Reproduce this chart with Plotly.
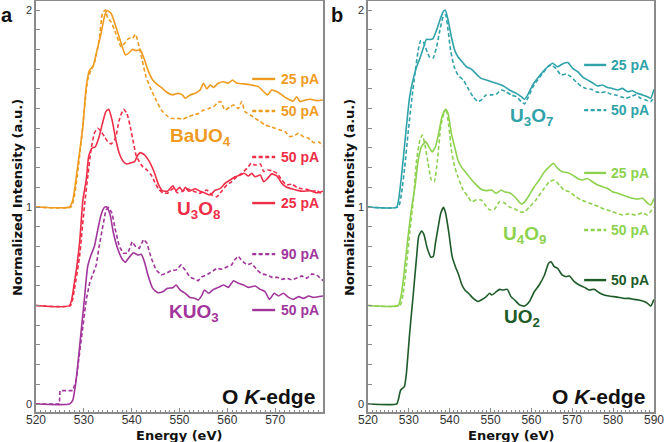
import plotly.graph_objects as go

# ---------------- DATA ----------------
# Panel a
ba25_E = [520, 527.0, 527.7, 528.7, 529.8, 530.5, 531.2, 531.9, 532.6, 533.6, 534.3, 534.85, 535.7, 536.7, 537.8, 538.7, 539.5, 540.1, 540.9, 541.8, 542.7, 543.4, 544.4, 545.5, 546.2, 547.2, 548.6, 549.6, 550.6, 551.2, 552.2, 553.3, 554.3, 555.0, 555.7, 556.4, 557.1, 558.1, 559.2, 560.2, 561.1, 562.0, 563.4, 565.1, 566.5, 567.6, 568.4, 569.3, 570.4, 571.4, 572.4, 573.8, 574.5, 575.2, 576.3, 577.3, 578.7, 580.0]
ba25_I = [1.0, 1.0, 1.036, 1.205, 1.408, 1.611, 1.695, 1.712, 1.78, 1.88, 1.966, 1.997, 1.983, 1.915, 1.831, 1.772, 1.783, 1.80, 1.794, 1.797, 1.746, 1.695, 1.645, 1.619, 1.607, 1.585, 1.569, 1.577, 1.569, 1.552, 1.569, 1.577, 1.594, 1.628, 1.60, 1.619, 1.607, 1.628, 1.636, 1.628, 1.645, 1.628, 1.625, 1.619, 1.611, 1.585, 1.569, 1.594, 1.585, 1.569, 1.552, 1.538, 1.560, 1.535, 1.543, 1.547, 1.54, 1.543]

ba50_E = [520, 527.3, 528.0, 529.1, 530.1, 530.8, 531.5, 532.2, 533.2, 533.9, 534.5, 535.0, 535.7, 536.7, 537.8, 538.5, 539.4, 540.2, 540.8, 541.3, 542.2, 543.0, 544.1, 545.1, 546.2, 547.2, 548.2, 549.6, 550.8, 551.9, 552.9, 554.0, 555.0, 556.1, 557.1, 557.8, 558.6, 559.5, 560.6, 561.3, 562.3, 563.0, 563.7, 564.8, 565.8, 566.9, 567.9, 569.0, 570.0, 571.0, 572.1, 573.1, 574.2, 574.9, 575.9, 577.0, 578.0, 579.1, 580.0]
ba50_I = [1.0, 1.0, 1.052, 1.255, 1.492, 1.645, 1.695, 1.73, 1.848, 1.983, 2.0, 1.958, 1.94, 1.88, 1.814, 1.831, 1.856, 1.856, 1.877, 1.84, 1.746, 1.661, 1.594, 1.543, 1.492, 1.467, 1.45, 1.45, 1.447, 1.458, 1.467, 1.475, 1.492, 1.50, 1.509, 1.526, 1.535, 1.492, 1.509, 1.518, 1.50, 1.535, 1.484, 1.467, 1.45, 1.433, 1.416, 1.408, 1.40, 1.391, 1.382, 1.357, 1.365, 1.374, 1.357, 1.349, 1.327, 1.33, 1.31]

u3o8_25_E = [520, 527.0, 528.0, 529.1, 529.8, 530.5, 531.0, 531.7, 532.4, 533.2, 533.9, 534.6, 535.2, 535.9, 536.7, 537.4, 538.3, 539.0, 539.9, 540.6, 541.3, 541.8, 542.7, 543.7, 544.8, 545.5, 546.4, 547.5, 548.6, 549.3, 550.0, 550.7, 551.2, 551.9, 553.3, 554.3, 555.4, 556.4, 557.5, 558.5, 559.5, 560.6, 561.6, 562.7, 563.5, 564.4, 565.1, 565.8, 566.9, 567.6, 568.4, 569.3, 570.4, 571.4, 572.4, 573.8, 574.9, 575.9, 577.3, 578.7, 580.0]
u3o8_25_I = [0.5, 0.5, 0.613, 0.816, 1.036, 1.137, 1.255, 1.298, 1.306, 1.357, 1.425, 1.484, 1.496, 1.442, 1.34, 1.273, 1.23, 1.218, 1.225, 1.23, 1.264, 1.276, 1.264, 1.23, 1.171, 1.12, 1.083, 1.08, 1.107, 1.083, 1.10, 1.08, 1.10, 1.08, 1.093, 1.08, 1.07, 1.061, 1.086, 1.093, 1.12, 1.137, 1.154, 1.162, 1.171, 1.157, 1.171, 1.154, 1.162, 1.128, 1.145, 1.168, 1.157, 1.12, 1.10, 1.09, 1.083, 1.08, 1.083, 1.072, 1.08]

u3o8_50_E = [520, 527.2, 528.0, 529.1, 530.1, 530.8, 531.5, 532.2, 532.9, 533.6, 534.3, 535.0, 535.7, 536.6, 537.4, 538.3, 539.0, 539.7, 540.4, 540.9, 541.6, 542.3, 543.2, 544.1, 544.8, 545.5, 546.5, 547.5, 548.6, 549.6, 550.7, 551.5, 552.9, 554.3, 555.7, 556.8, 557.8, 558.8, 559.9, 560.9, 562.0, 563.0, 564.1, 565.0, 565.8, 566.9, 567.6, 568.4, 569.3, 570.4, 571.4, 572.4, 573.5, 574.5, 575.6, 576.6, 577.7, 578.7, 580.0]
u3o8_50_I = [0.5, 0.5, 0.579, 0.748, 1.0, 1.15, 1.289, 1.374, 1.40, 1.384, 1.357, 1.332, 1.32, 1.349, 1.442, 1.496, 1.475, 1.408, 1.323, 1.264, 1.23, 1.205, 1.188, 1.162, 1.128, 1.095, 1.072, 1.07, 1.093, 1.072, 1.08, 1.093, 1.08, 1.07, 1.086, 1.061, 1.052, 1.08, 1.112, 1.128, 1.154, 1.171, 1.196, 1.222, 1.213, 1.218, 1.18, 1.188, 1.184, 1.171, 1.137, 1.112, 1.116, 1.10, 1.093, 1.09, 1.08, 1.083, 1.061]

kuo50_E = [520, 527.0, 527.7, 528.2, 528.7, 529.4, 530.1, 530.8, 531.5, 532.2, 532.9, 533.6, 534.3, 534.8, 535.5, 536.2, 537.1, 538.0, 538.7, 539.5, 540.4, 541.3, 542.0, 542.7, 543.4, 544.4, 545.5, 546.5, 547.5, 548.6, 549.3, 550.1, 551.2, 552.2, 553.3, 553.9, 554.7, 555.2, 556.1, 557.1, 558.1, 559.2, 560.2, 561.3, 562.3, 563.4, 564.4, 565.8, 566.9, 567.9, 568.8, 569.8, 570.7, 571.7, 572.8, 573.8, 574.9, 575.9, 577.0, 578.0, 580.0]
kuo50_I = [0, 0, 0.02, 0.088, 0.19, 0.36, 0.528, 0.697, 0.756, 0.80, 0.883, 0.96, 0.998, 1.0, 0.96, 0.867, 0.787, 0.736, 0.72, 0.745, 0.768, 0.756, 0.76, 0.72, 0.655, 0.587, 0.565, 0.57, 0.587, 0.59, 0.604, 0.579, 0.562, 0.541, 0.536, 0.528, 0.553, 0.579, 0.562, 0.582, 0.592, 0.604, 0.592, 0.626, 0.613, 0.604, 0.592, 0.599, 0.582, 0.57, 0.531, 0.562, 0.548, 0.562, 0.541, 0.531, 0.545, 0.536, 0.548, 0.541, 0.548]

kuo90_E = [520, 524.9, 525.0, 527.7, 528.4, 529.1, 529.8, 530.5, 531.2, 531.9, 532.6, 533.2, 533.9, 534.6, 535.2, 535.9, 536.6, 537.4, 538.3, 539.2, 540.1, 540.8, 541.6, 542.5, 543.2, 544.1, 545.1, 546.2, 547.2, 548.2, 549.3, 550.3, 551.2, 552.2, 553.3, 553.9, 554.7, 555.7, 556.8, 557.8, 558.8, 559.9, 560.9, 561.6, 562.3, 563.0, 564.1, 565.1, 566.2, 567.2, 568.3, 569.3, 570.4, 571.4, 572.4, 573.5, 574.5, 575.6, 576.6, 577.7, 578.7, 580.0]
kuo90_I = [0, 0, 0.068, 0.068, 0.122, 0.257, 0.41, 0.528, 0.613, 0.655, 0.706, 0.80, 0.90, 0.985, 0.998, 0.968, 0.883, 0.80, 0.765, 0.765, 0.824, 0.80, 0.79, 0.836, 0.816, 0.74, 0.68, 0.655, 0.663, 0.677, 0.68, 0.706, 0.68, 0.643, 0.633, 0.626, 0.646, 0.655, 0.672, 0.689, 0.684, 0.697, 0.706, 0.734, 0.751, 0.728, 0.706, 0.714, 0.68, 0.66, 0.655, 0.643, 0.643, 0.633, 0.638, 0.63, 0.638, 0.65, 0.638, 0.66, 0.655, 0.626]

# Panel b
u3o7_25_E = [520, 527.0, 527.8, 528.6, 529.4, 530.2, 531.1, 531.9, 532.7, 533.5, 534.3, 535.1, 535.9, 536.8, 537.6, 538.4, 538.9, 539.6, 540.4, 541.2, 542.0, 542.8, 544.1, 545.3, 546.5, 547.7, 548.9, 550.2, 551.4, 552.6, 553.4, 554.6, 556.3, 557.5, 558.3, 559.1, 560.3, 561.5, 562.8, 564.0, 565.2, 566.4, 567.6, 568.9, 570.1, 571.3, 572.5, 573.7, 574.9, 576.2, 577.4, 578.6, 579.8, 581.1, 582.3, 583.5, 584.7, 585.9, 587.2, 588.4, 589.2, 590.0]
u3o7_25_I = [1.0, 1.0, 1.086, 1.239, 1.408, 1.56, 1.653, 1.712, 1.755, 1.805, 1.851, 1.85, 1.855, 1.898, 1.949, 1.991, 2.0, 1.95, 1.864, 1.797, 1.763, 1.743, 1.712, 1.70, 1.675, 1.653, 1.645, 1.636, 1.628, 1.619, 1.611, 1.594, 1.577, 1.56, 1.547, 1.569, 1.619, 1.653, 1.687, 1.712, 1.73, 1.712, 1.726, 1.733, 1.704, 1.687, 1.661, 1.645, 1.631, 1.614, 1.619, 1.607, 1.602, 1.594, 1.602, 1.585, 1.59, 1.577, 1.569, 1.56, 1.552, 1.598]

u3o7_50_E = [520, 527.4, 528.2, 529.0, 529.8, 530.7, 531.5, 532.3, 532.9, 533.5, 534.3, 535.1, 535.9, 536.8, 537.6, 538.4, 539.0, 539.6, 540.2, 541.1, 542.0, 543.3, 544.5, 545.7, 546.9, 547.7, 548.9, 550.2, 551.4, 552.6, 553.8, 555.0, 556.3, 557.5, 558.3, 559.1, 560.3, 561.5, 562.8, 564.0, 564.8, 566.0, 567.2, 568.5, 569.7, 570.9, 572.1, 573.3, 574.6, 575.8, 577.0, 578.2, 579.4, 580.6, 581.9, 583.1, 584.3, 585.5, 586.7, 588.0, 589.2, 590.0]
u3o7_50_I = [1.0, 1.0, 1.07, 1.205, 1.374, 1.543, 1.679, 1.797, 1.844, 1.84, 1.797, 1.76, 1.755, 1.814, 1.898, 1.966, 1.975, 1.898, 1.797, 1.712, 1.67, 1.645, 1.602, 1.56, 1.535, 1.543, 1.569, 1.569, 1.573, 1.594, 1.585, 1.569, 1.56, 1.535, 1.523, 1.552, 1.607, 1.645, 1.679, 1.712, 1.72, 1.704, 1.67, 1.675, 1.661, 1.636, 1.614, 1.602, 1.598, 1.585, 1.58, 1.585, 1.573, 1.569, 1.56, 1.552, 1.56, 1.569, 1.552, 1.543, 1.535, 1.56]

u4o9_25_E = [520, 527.4, 528.2, 529.0, 529.8, 530.7, 531.5, 532.3, 533.1, 534.1, 534.9, 535.7, 536.5, 537.3, 538.1, 539.0, 539.6, 540.4, 541.2, 542.0, 542.8, 544.1, 545.3, 546.5, 547.7, 548.9, 550.2, 551.4, 552.6, 553.4, 554.6, 555.9, 557.5, 558.3, 559.5, 560.7, 561.9, 563.2, 564.4, 565.4, 566.4, 567.6, 568.9, 570.1, 571.3, 572.5, 573.7, 574.9, 576.2, 577.4, 578.6, 579.8, 581.1, 582.3, 583.5, 584.7, 585.9, 587.2, 588.4, 589.2, 590.0]
u4o9_25_I = [0.5, 0.5, 0.562, 0.697, 0.85, 1.0, 1.103, 1.239, 1.306, 1.332, 1.306, 1.28, 1.306, 1.374, 1.458, 1.496, 1.475, 1.374, 1.306, 1.239, 1.205, 1.171, 1.14, 1.112, 1.09, 1.083, 1.086, 1.07, 1.086, 1.077, 1.072, 1.052, 1.015, 1.025, 1.061, 1.103, 1.137, 1.179, 1.205, 1.222, 1.196, 1.179, 1.174, 1.162, 1.145, 1.137, 1.145, 1.128, 1.112, 1.103, 1.095, 1.077, 1.07, 1.061, 1.052, 1.044, 1.04, 1.044, 1.02, 1.01, 1.044]

u4o9_50_E = [520, 527.8, 528.6, 529.4, 530.2, 531.1, 531.9, 532.7, 533.3, 533.9, 534.7, 535.5, 536.2, 537.0, 537.8, 538.6, 539.2, 539.8, 540.4, 541.2, 542.0, 543.3, 544.5, 545.3, 546.5, 547.7, 548.7, 549.8, 551.0, 552.2, 553.4, 554.6, 555.9, 557.3, 558.3, 559.5, 561.1, 562.8, 564.4, 565.6, 566.8, 568.0, 569.3, 570.9, 572.1, 573.3, 574.9, 576.6, 577.4, 579.8, 582.3, 583.9, 585.5, 587.2, 588.4, 590.0]
u4o9_50_I = [0.5, 0.5, 0.562, 0.697, 0.867, 1.036, 1.239, 1.34, 1.365, 1.32, 1.222, 1.137, 1.128, 1.239, 1.408, 1.475, 1.484, 1.408, 1.289, 1.205, 1.154, 1.086, 1.052, 1.027, 1.036, 1.036, 1.01, 0.985, 0.99, 1.027, 1.02, 1.0, 0.99, 0.975, 0.975, 1.0, 1.036, 1.086, 1.128, 1.137, 1.112, 1.086, 1.077, 1.052, 1.036, 1.027, 1.015, 1.0, 0.993, 0.976, 0.96, 0.965, 0.96, 0.97, 0.96, 1.0]

uo2_50_E = [520, 527.0, 527.4, 528.0, 528.9, 529.4, 530.2, 531.1, 531.9, 532.4, 533.1, 533.7, 534.5, 535.4, 536.0, 536.5, 537.2, 537.8, 538.5, 539.0, 539.8, 540.6, 541.4, 542.2, 543.0, 543.7, 544.6, 545.7, 546.9, 547.7, 548.7, 549.8, 550.3, 551.4, 552.2, 553.0, 554.1, 555.0, 555.9, 557.1, 558.3, 559.5, 560.7, 561.9, 563.2, 564.2, 564.8, 565.6, 566.4, 567.5, 568.5, 569.3, 570.5, 571.7, 573.0, 574.1, 575.4, 576.6, 577.8, 579.0, 580.2, 581.5, 582.7, 583.9, 585.1, 586.3, 587.6, 588.4, 589.2, 590.0]
uo2_50_I = [0, 0, 0.02, 0.071, 0.088, 0.156, 0.36, 0.562, 0.748, 0.85, 0.878, 0.86, 0.79, 0.745, 0.75, 0.816, 0.90, 0.968, 0.998, 0.968, 0.867, 0.748, 0.697, 0.655, 0.604, 0.579, 0.562, 0.537, 0.52, 0.528, 0.541, 0.562, 0.553, 0.57, 0.582, 0.579, 0.582, 0.545, 0.528, 0.503, 0.497, 0.52, 0.57, 0.604, 0.655, 0.714, 0.722, 0.697, 0.689, 0.655, 0.646, 0.65, 0.621, 0.604, 0.592, 0.579, 0.582, 0.565, 0.553, 0.548, 0.545, 0.541, 0.536, 0.536, 0.531, 0.528, 0.52, 0.511, 0.497, 0.531]

x_ticks_a = [520, 530, 540, 550, 560, 570]
x_ticks_b = [520, 530, 540, 550, 560, 570, 580, 590]
y_ticks = [0, 1, 2]

# ---------------- STYLE ----------------
ORANGE = "#EF9B1F"
RED = "#EE2E48"
PURPLE = "#A1359B"
TEAL = "#2FA2AA"
LGREEN = "#8DD24E"
DGREEN = "#1D5B28"
DASH = "4px,2.5px"
AX = "#8a8a8a"
SANS = "Liberation Sans, Arial, sans-serif"
WIDE = "DejaVu Sans, Verdana, sans-serif"

W, H = 664, 442
fig = go.Figure()

series = [
    # x-axis, y-axis, E, I, color, dashed, smooth
    ("x", "y", ba50_E, ba50_I, ORANGE, True, True),
    ("x", "y", ba25_E, ba25_I, ORANGE, False, True),
    ("x", "y", u3o8_50_E, u3o8_50_I, RED, True, True),
    ("x", "y", u3o8_25_E, u3o8_25_I, RED, False, True),
    ("x", "y", kuo90_E, kuo90_I, PURPLE, True, False),
    ("x", "y", kuo50_E, kuo50_I, PURPLE, False, True),
    ("x2", "y2", u3o7_50_E, u3o7_50_I, TEAL, True, True),
    ("x2", "y2", u3o7_25_E, u3o7_25_I, TEAL, False, True),
    ("x2", "y2", u4o9_50_E, u4o9_50_I, LGREEN, True, True),
    ("x2", "y2", u4o9_25_E, u4o9_25_I, LGREEN, False, True),
    ("x2", "y2", uo2_50_E, uo2_50_I, DGREEN, False, True),
]
for xa, ya, E, I, col, dashed, smooth in series:
    line = dict(color=col, width=1.6, dash=DASH if dashed else "solid")
    if smooth:
        line.update(shape="spline", smoothing=0.5)
    fig.add_trace(go.Scatter(
        x=E, y=I, xaxis=xa, yaxis=ya, mode="lines", line=line,
        showlegend=False, hoverinfo="skip"))

# legend-like labels: (axis, y, color, dashed, text, seg_x0, seg_x1, text_x)
labels = [
    ("x", "y", 1.65, ORANGE, False, "25 pA", 565.2, 570.0, 570.8),
    ("x", "y", 1.487, ORANGE, True, "50 pA", 565.2, 570.0, 570.8),
    ("x", "y", 1.254, RED, True, "50 pA", 565.2, 570.0, 570.8),
    ("x", "y", 1.02, RED, False, "25 pA", 565.2, 570.0, 570.8),
    ("x", "y", 0.761, PURPLE, True, "90 pA", 565.2, 570.0, 570.8),
    ("x", "y", 0.477, PURPLE, False, "50 pA", 565.2, 570.0, 570.8),
    ("x2", "y2", 1.721, TEAL, False, "25 pA", 572.9, 578.3, 579.0),
    ("x2", "y2", 1.492, TEAL, True, "50 pA", 572.9, 578.3, 579.0),
    ("x2", "y2", 1.173, LGREEN, False, "25 pA", 572.9, 578.3, 579.0),
    ("x2", "y2", 0.883, LGREEN, True, "50 pA", 572.9, 578.3, 579.0),
    ("x2", "y2", 0.629, DGREEN, False, "50 pA", 572.9, 578.3, 579.0),
]
shapes = []
annotations = []
for xa, ya, yv, col, dashed, txt, x0, x1, tx in labels:
    shapes.append(dict(type="line", xref=xa, yref=ya, x0=x0, x1=x1, y0=yv, y1=yv,
                       line=dict(color=col, width=2.4, dash="4px,2.5px" if dashed else "solid")))
    annotations.append(dict(xref=xa, yref=ya, x=tx, y=yv, text="<b>%s</b>" % txt,
                            showarrow=False, xanchor="left", yanchor="middle",
                            font=dict(family=SANS, size=14, color=col)))

names = [
    ("x", "y", 554.3, 1.355, ORANGE, "BaUO<sub>4</sub>"),
    ("x", "y", 554.0, 0.985, RED, "U<sub>3</sub>O<sub>8</sub>"),
    ("x", "y", 553.0, 0.462, PURPLE, "KUO<sub>3</sub>"),
    ("x2", "y2", 560.0, 1.457, TEAL, "U<sub>3</sub>O<sub>7</sub>"),
    ("x2", "y2", 558.3, 0.858, LGREEN, "U<sub>4</sub>O<sub>9</sub>"),
    ("x2", "y2", 557.6, 0.437, DGREEN, "UO<sub>2</sub>"),
]
for xa, ya, x, y, col, txt in names:
    annotations.append(dict(xref=xa, yref=ya, x=x, y=y, text="<b>%s</b>" % txt,
                            showarrow=False, xanchor="center", yanchor="middle",
                            font=dict(family=SANS, size=19, color=col)))

for xa, ya, x in [("x", "y", 578.8), ("x2", "y2", 588.3)]:
    annotations.append(dict(xref=xa, yref=ya, x=x, y=0.036, text="<b>O <i>K</i>-edge</b>",
                            showarrow=False, xanchor="right", yanchor="middle",
                            font=dict(family=SANS, size=21, color="#111")))

# panel letters and axis titles (paper coordinates)
for px, letter in [(7, "a"), (337, "b")]:
    annotations.append(dict(xref="paper", yref="paper", x=px / W, y=1 - 15 / H, text="<b>%s</b>" % letter,
                            showarrow=False, xanchor="center", yanchor="middle",
                            font=dict(family=SANS, size=20, color="#111")))
for cx in [179.5, 511]:
    annotations.append(dict(xref="paper", yref="paper", x=cx / W, y=1 - 435 / H, text="<b>Energy (eV)</b>",
                            showarrow=False, xanchor="center", yanchor="middle",
                            font=dict(family=WIDE, size=13, color="#111")))
for cx in [18, 350]:
    annotations.append(dict(xref="paper", yref="paper", x=cx / W, y=1 - 198 / H,
                            text="<b>Normalized Intensity (a.u.)</b>", textangle=-90,
                            showarrow=False, xanchor="center", yanchor="middle",
                            font=dict(family=WIDE, size=13, color="#111")))

ydom = [1 - 412 / H, 1 - 1 / H]
yrange = [(404 - 412) / 197, (404 - 1) / 197]

def xaxis(dom, rng, ticks):
    return dict(domain=dom, range=rng, tickmode="array", tickvals=ticks,
                ticks="inside", ticklen=4, tickwidth=1, tickcolor=AX,
                minor=dict(dtick=1, tick0=520, ticks="inside", ticklen=2, tickcolor=AX, tickwidth=1),
                showline=True, linecolor=AX, linewidth=1.5, mirror=True,
                showgrid=False, zeroline=False, ticklabelstandoff=-4,
                ticklabeloverflow="allow",
                tickfont=dict(family=SANS, size=12, color="#333"))

def yaxis(anchor):
    return dict(domain=ydom, range=yrange, anchor=anchor, tickmode="array", tickvals=y_ticks,
                ticks="inside", ticklen=4, tickwidth=1, tickcolor=AX,
                minor=dict(dtick=0.1, tick0=0, ticks="inside", ticklen=4, tickcolor=AX, tickwidth=1),
                showline=True, linecolor=AX, linewidth=1.5, mirror=True,
                showgrid=False, zeroline=False,
                tickfont=dict(family=SANS, size=11, color="#333"))

fig.update_layout(
    width=W, height=H,
    margin=dict(l=0, r=0, t=0, b=0, autoexpand=False),
    paper_bgcolor="white", plot_bgcolor="white",
    xaxis=dict(**xaxis([36 / W, 323 / W], [520, 580], x_ticks_a), anchor="y"),
    xaxis2=dict(**xaxis([368 / W, 654 / W], [520, 590], x_ticks_b), anchor="y2"),
    yaxis=yaxis("x"),
    yaxis2=yaxis("x2"),
    shapes=shapes,
    annotations=annotations,
    showlegend=False,
)

fig.write_html("out.html")
